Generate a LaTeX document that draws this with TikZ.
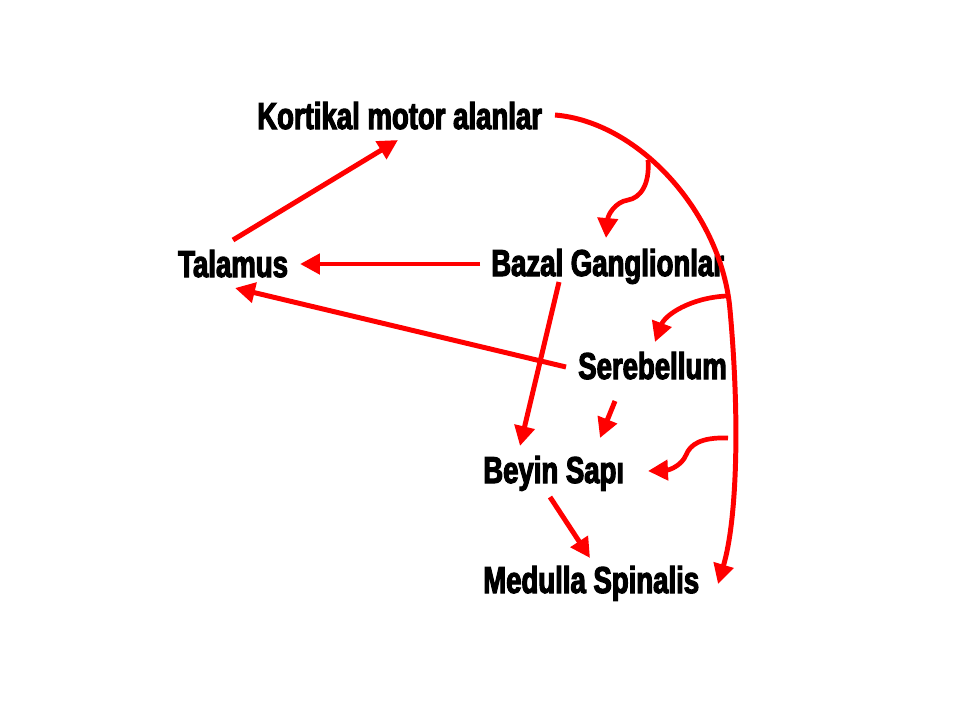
\documentclass[tikz,border=0pt]{standalone}
\usepackage{fontspec}
\usepackage{tikz}
\usetikzlibrary{arrows.meta, calc}
\newfontfamily\lblfont{Liberation Sans}[FakeStretch=0.735, BoldFeatures={FakeBold=3}]

\begin{document}
\begin{tikzpicture}[
    x=0.03cm, y=-0.03cm,
    lbl/.style={anchor=base west, inner sep=0, font=\lblfont\bfseries\fontsize{32}{36}\selectfont},
    arrow/.style={-{Triangle[length=17pt, width=17pt]}, red, line width=4.25pt},
    branch/.style={-{Triangle[length=17pt, width=17pt]}, red, line width=4pt}
]
    \useasboundingbox[fill=white] (0,0) rectangle (959,719);

    \node[lbl] (kort) at (257,129) {Kortikal motor alanlar};
    \node[lbl] (tal) at (178,277) {Talamus};
    \node[lbl] (baz) at (491,276) {Bazal Ganglionlar};
    \node[lbl] (ser) at (578,379) {Serebellum};
    \node[lbl] (bey) at (483,483) {Beyin Sapı};
    \node[lbl] (med) at (483,593) {Medulla Spinalis};

    % straight connections
    \draw[arrow] ($(tal.base west)+(55,-37)$) -- ($(kort.base west)+(141,11)$);
    \draw[arrow] ($(baz.base west)+(-11,-12)$) -- ($(tal.base west)+(122,-13)$);
    \draw[arrow] ($(ser.base west)+(-12,-12)$) -- ($(tal.base west)+(57,11)$);
    \draw[arrow] ($(baz.base west)+(68,6)$) -- ($(bey.base west)+(37,-37)$);
    \draw[arrow] ($(ser.base west)+(37,22)$) -- ($(bey.base west)+(117,-45)$);
    \draw[arrow] ($(bey.base west)+(67,14)$) -- ($(med.base west)+(107,-35)$);

    % the long path from the cortex down to the cord
    \draw[arrow] ($(kort.base west)+(298,-14)$)
        .. controls (640,122) and (722,215) .. (730,310)
        .. controls (740,420) and (737,520) .. ($(med.base west)+(235,-9)$);

    % side branches leaving the long path
    \coordinate (br1) at (648,160);
    \coordinate (br2) at (726,296);
    \coordinate (br3) at (728,438);
    \draw[branch] (br1) .. controls (650,185) and (640,198) .. (628,200)
        .. controls (615,202) and (608,215) .. ($(baz.base west)+(115,-38)$);
    \draw[branch] (br2) .. controls (690,298) and (665,315) .. ($(ser.base west)+(77,-37)$);
    \draw[branch] (br3) .. controls (700,437) and (690,445) .. (686,455)
        .. controls (682,465) and (670,470) .. ($(bey.base west)+(165,-12)$);
\end{tikzpicture}
\end{document}
